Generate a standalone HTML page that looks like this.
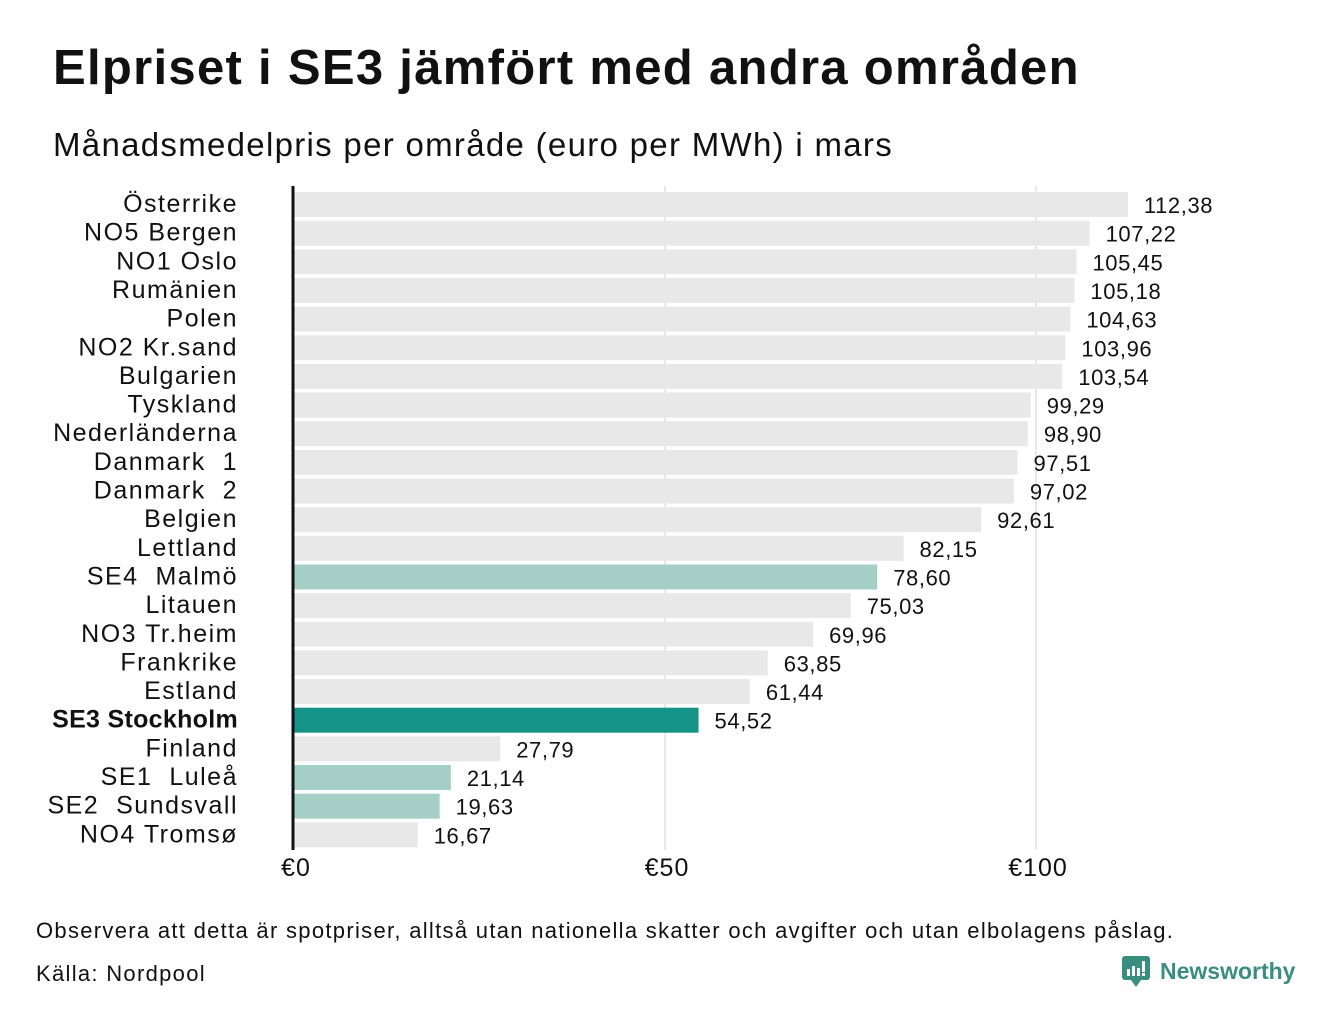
<!DOCTYPE html>
<html><head><meta charset="utf-8"><style>
body{margin:0;width:1340px;height:1020px;background:#fff;font-family:"Liberation Sans",sans-serif;color:#111;position:relative;overflow:hidden}
#title{position:absolute;left:53px;top:40px;font-size:49px;font-weight:bold;letter-spacing:1.3px}
#sub{position:absolute;left:53px;top:126px;font-size:33px;letter-spacing:1.3px}
.foot{position:absolute;left:36px;font-size:22px;letter-spacing:1.3px}
</style></head><body>
<div id="title">Elpriset i SE3 jämfört med andra områden</div>
<div id="sub">Månadsmedelpris per område (euro per MWh) i mars</div>
<svg id="chart" width="1340" height="900" style="position:absolute;left:0;top:0"></svg>
<div class="foot" style="top:918px">Observera att detta är spotpriser, alltså utan nationella skatter och avgifter och utan elbolagens påslag.</div>
<div class="foot" style="top:961px">Källa: Nordpool</div>
<div style="position:absolute;left:1122px;top:954px;display:flex;align-items:center">
<svg width="28" height="34" viewBox="0 0 28 34"><rect x="0" y="2" width="28" height="24" rx="3" fill="#3a8e80"/><polygon points="9,26 19,26 14,33" fill="#3a8e80"/><rect x="5" y="15" width="3" height="7" fill="#fff"/><rect x="10" y="12" width="3" height="10" fill="#fff"/><rect x="15" y="14" width="3" height="8" fill="#fff"/><rect x="20" y="7" width="3" height="11" fill="#fff"/><rect x="20" y="19" width="3" height="3" fill="#fff"/></svg>
<span style="margin-left:10px;font-size:23px;font-weight:bold;color:#3a8e80">Newsworthy</span></div>
<script>
const categories=["Österrike","NO5 Bergen","NO1 Oslo","Rumänien","Polen","NO2 Kr.sand","Bulgarien","Tyskland","Nederländerna","Danmark  1","Danmark  2","Belgien","Lettland","SE4  Malmö","Litauen","NO3 Tr.heim","Frankrike","Estland","SE3 Stockholm","Finland","SE1  Luleå","SE2  Sundsvall","NO4 Tromsø"];
const values=[112.38,107.22,105.45,105.18,104.63,103.96,103.54,99.29,98.90,97.51,97.02,92.61,82.15,78.60,75.03,69.96,63.85,61.44,54.52,27.79,21.14,19.63,16.67];
const highlight=["","","","","","","","","","","","","","se","","","","","main","","se","se",""];
const ticks=[0,50,100];
const tickLabels=["€0","€50","€100"];
const NS="http://www.w3.org/2000/svg";
const svg=document.getElementById('chart');
const x0=294,k=7.42,top0=192,pitch=28.65,bh=25;
const x=v=>x0+v*k;
const y=i=>top0+i*pitch;
function mk(t,a){const e=document.createElementNS(NS,t);for(const q in a)e.setAttribute(q,a[q]);svg.appendChild(e);return e;}
ticks.forEach((t,i)=>{
 if(t>0){const g=mk('line',{x1:x(t),x2:x(t),y1:186,y2:850,stroke:'#d0d0d0','stroke-width':1});
 
 }
 const tl=mk('text',{x:x(t)+2,y:876,'text-anchor':'middle','font-size':25,fill:'#111','letter-spacing':1});tl.textContent=tickLabels[i];
 
 
});
values.forEach((v,i)=>{
 const c=highlight[i]==='main'?'#149486':highlight[i]==='se'?'#a5cfc6':'#e8e8e8';
 const r=mk('rect',{x:x0,y:y(i),width:x(v)-x0,height:bh,fill:c});
 
 
 const l=mk('text',{x:238,y:y(i)+20,'text-anchor':'end','font-size':25,fill:'#111','letter-spacing':highlight[i]==='main'?0.3:1.5,'font-weight':highlight[i]==='main'?'bold':'normal'});
 l.setAttribute('xml:space','preserve');l.style.whiteSpace='pre';
 l.textContent=categories[i];
 
 
 const t=mk('text',{x:x(v)+16,y:y(i)+21,'font-size':22,fill:'#111','letter-spacing':0.6});
 t.textContent=v.toFixed(2).replace('.',',');
 
 
});
const ax=mk('line',{x1:293,x2:293,y1:186,y2:850,stroke:'#111','stroke-width':3});


</script>
</body></html>
